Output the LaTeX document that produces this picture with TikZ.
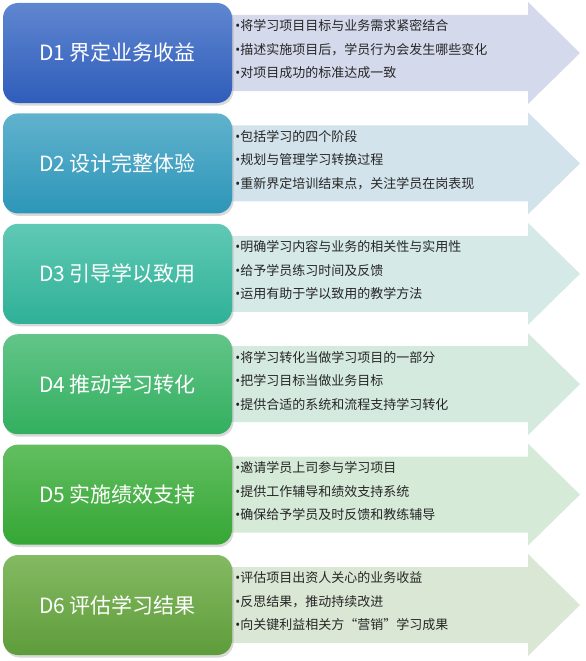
\documentclass[tikz,border=0pt]{standalone}
\usepackage{fontspec}
\setmainfont{Noto Sans CJK SC}
\newfontfamily\pucefont{Noto Sans}
\usepackage{tikz}
\usetikzlibrary{positioning,shadows}
\definecolor{topD1}{HTML}{5F86D0}
\definecolor{botD1}{HTML}{2F5DBA}
\definecolor{topD2}{HTML}{60B2CD}
\definecolor{botD2}{HTML}{2D96B9}
\definecolor{topD3}{HTML}{60C9B5}
\definecolor{botD3}{HTML}{2FB197}
\definecolor{topD4}{HTML}{62C588}
\definecolor{botD4}{HTML}{33AF5F}
\definecolor{topD5}{HTML}{62BE60}
\definecolor{botD5}{HTML}{35A735}
\definecolor{topD6}{HTML}{84BA62}
\definecolor{botD6}{HTML}{5E9C3A}
\definecolor{arrD1}{HTML}{D5D9EC}
\definecolor{arrD2}{HTML}{D3E3EB}
\definecolor{arrD3}{HTML}{D5EAE7}
\definecolor{arrD4}{HTML}{D5EADF}
\definecolor{arrD5}{HTML}{D6EAD8}
\definecolor{arrD6}{HTML}{DAE7D4}
\newcommand{\puce}{{\pucefont •}}

\begin{document}
\begin{tikzpicture}[x=1pt,y=-1pt,
  titlebox/.style={rounded corners=15pt,minimum width=229pt,minimum height=100pt,inner sep=0pt,
    text=white,font=\fontsize{21}{25}\selectfont,
    drop shadow={shadow xshift=1.5pt,shadow yshift=-2.5pt,opacity=0.3}},
  itemtext/.style={anchor=west,align=left,inner sep=0pt,text=black!85,font=\fontsize{13}{23.5}\selectfont}]
  \useasboundingbox (0,0) rectangle (586,661);
  \foreach \i/\ttl/\la/\lb/\lc in {
    1/界定业务收益/将学习项目目标与业务需求紧密结合/描述实施项目后，学员行为会发生哪些变化/对项目成功的标准达成一致,
    2/设计完整体验/包括学习的四个阶段/规划与管理学习转换过程/重新界定培训结束点，关注学员在岗表现,
    3/引导学以致用/明确学习内容与业务的相关性与实用性/给予学员练习时间及反馈/运用有助于学以致用的教学方法,
    4/推动学习转化/将学习转化当做学习项目的一部分/把学习目标当做业务目标/提供合适的系统和流程支持学习转化,
    5/实施绩效支持/邀请学员上司参与学习项目/提供工作辅导和绩效支持系统/确保给予学员及时反馈和教练辅导,
    6/评估学习结果/评估项目出资人关心的业务收益/反思结果，推动持续改进/向关键利益相关方“营销”学习成果} {
    \pgfmathsetmacro{\ytop}{3+(\i-1)*110.4}
    % arrow behind the title box
    \fill[arrD\i] (225,\ytop+12) -- (528,\ytop+12) -- (528,\ytop-1) -- (580,\ytop+50)
      -- (528,\ytop+101) -- (528,\ytop+88) -- (225,\ytop+88) -- cycle;
    \node[titlebox,top color=topD\i,bottom color=botD\i] (d\i) at (117.5,\ytop+50) {D\i\ \ttl};
    \node[itemtext] (l\i) at ([xshift=3pt,yshift=3.5pt]d\i.east) {\puce\la\\\puce\lb\\\puce\lc};
  }
\end{tikzpicture}
\end{document}
